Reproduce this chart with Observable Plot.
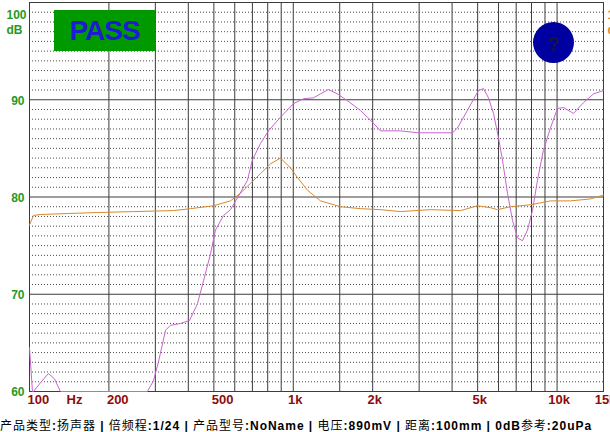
<!DOCTYPE html>
<html>
<head>
<meta charset="utf-8">
<script src="https://cdn.jsdelivr.net/npm/d3@7"></script>
<script src="https://cdn.jsdelivr.net/npm/@observablehq/plot@0.6"></script>
<style>
  html, body { margin: 0; padding: 0; background: #fff; }
  #wrap { position: relative; width: 610px; height: 432px; overflow: hidden; background: #fff; }
  #chart svg { display: block; }
  #pass { position: absolute; left: 54px; top: 10px; width: 101px; height: 41px; background: #009a00;
          color: #1c1cd0; font: bold 28px "Liberation Sans", Arial, sans-serif; letter-spacing: -1px;
          display: flex; align-items: center; justify-content: center; }
  #badge { position: absolute; left: 533px; top: 22px; width: 41px; height: 41px; border-radius: 50%;
           background: #0000a0; color: #14143c; font: bold 20px "Liberation Sans", Arial, sans-serif;
           display: flex; align-items: center; justify-content: center; padding-top: 4px; box-sizing: border-box; }
  #caption { position: absolute; left: 0; top: 416px; height: 16px; line-height: 16px; white-space: nowrap;
             font: bold 12px "Liberation Sans", "Noto Sans CJK SC", sans-serif; color: #000; }
  #caption .cjk { font-weight: normal; }
</style>
</head>
<body>
<div id="wrap">
  <div id="chart"></div>
  <div id="pass">PASS</div>
  <div id="badge">?</div>
  <div id="caption"></div>
</div>
<script>
// ---- data ----
const gridFreqs = [100,200,300,400,500,600,700,800,900,1000,1500,2000,3000,4000,5000,6000,7000,8000,9000,10000,15000];
const hzTickValues = [100, 200, 500];
const hzTickLabels = ["100", "200", "500"];
const kTickValues = [1000, 2000, 5000, 10000, 15000];
const kTickLabels = ["1k", "2k", "5k", "10k", "15k"];
const dbTickValues = [90, 80, 70, 60];
const dbTickLabels = ["90", "80", "70", "60"];
const dbMajor = [70, 80, 90];
const dbMinor = [61,62,63,64,65,66,67,68,69,71,72,73,74,75,76,77,78,79,81,82,83,84,85,86,87,88,89,91,92,93,94,95,96,97,98,99];

const splFreq = [100,102.6,103.5,110,118,124.4,131,150,186,230,280,295,308,328,342,374,404,433,457,486,507,544,578,614,670,700,751,805,894,1002,1093,1193,1268,1359,1471,1605,1797,1996,2141,2550,2983,4013,4193,4571,5035,5260,5495,5741,5997,6210,6486,6776,7080,7396,7727,8068,8427,8878,9440,10036,10575,11541,12593,13740,15000];
const splDb   = [64.5,59,60,60.9,61.85,61.3,59.5,57,56,57,59.5,61.1,63,66.3,66.8,67.0,67.3,69.0,71.4,74.2,76.6,78.1,78.7,79.9,81.7,83.8,85.5,86.8,88.2,89.6,90.1,90.2,90.6,91.05,90.6,89.9,88.9,87.7,86.8,86.8,86.6,86.6,87.1,88.9,90.95,91.15,90.2,88.6,86.1,83.8,80.4,77.6,75.8,75.5,76.6,78.6,81.7,84.8,87.1,89.1,89.2,88.6,89.7,90.6,90.95];

const refFreq = [100,103.5,110,139,181,248,351,408,498,578,631,688,751,819,894,976,1037,1132,1268,1510,1797,2141,2550,3311,4306,4989,5592,5942,6657,7925,9440,11240,13384,15000];
const refDb   = [77.1,78.1,78.2,78.3,78.4,78.5,78.6,78.8,79.1,79.6,80.4,81.4,82.4,83.4,84.0,83.0,82.0,80.7,79.6,79.0,78.8,78.7,78.5,78.7,78.6,79.1,78.9,78.7,79.0,79.2,79.6,79.6,79.8,80.2];

const captionText = "产品类型:扬声器  |  倍频程:1/24  |  产品型号:NoName  |  电压:890mV  |  距离:100mm  |  0dB参考:20uPa";

// ---- tables ----
const spl = splFreq.map((f, i) => ({f, db: splDb[i]}));
const ref = refFreq.map((f, i) => ({f, db: refDb[i]}));
const hzTicks = hzTickValues.map((f, i) => ({f, label: hzTickLabels[i]}));
const kTicks = kTickValues.map((f, i) => ({f, label: kTickLabels[i]}));
const dbTicks = dbTickValues.map((v, i) => ({v, label: dbTickLabels[i]}));

const gridColor = "#3c3c3c";
const axisFont = {fontFamily: "Liberation Sans, Arial, sans-serif", fontWeight: "bold"};

const chart = Plot.plot({
  width: 610,
  height: 416,
  marginLeft: 29,
  marginRight: 7,
  marginTop: 2,
  marginBottom: 25,
  x: {type: "log", domain: [100, 15000], axis: null},
  y: {domain: [60, 100], axis: null, clamp: true},
  style: {background: "white", overflow: "visible"},
  marks: [
    Plot.ruleY(dbMinor, {stroke: "#4a4a4a", strokeDasharray: "1,2", strokeWidth: 1}),
    Plot.ruleY(dbMajor, {stroke: gridColor, strokeWidth: 1}),
    Plot.ruleX(gridFreqs, {stroke: gridColor, strokeWidth: 1}),
    Plot.frame({stroke: gridColor}),
    Plot.line(ref, {x: "f", y: "db", stroke: "#d88a2c", strokeWidth: 1}),
    Plot.line(spl, {x: "f", y: "db", stroke: "#c865d0", strokeWidth: 1}),
    // left axis labels
    Plot.text(dbTicks, {y: "v", text: "label", frameAnchor: "left", dx: -5, dy: 1, textAnchor: "end",
      fill: "#259a25", fontSize: 12, ...axisFont}),
    Plot.text(["100"], {frameAnchor: "top-left", dx: -3, dy: 8, textAnchor: "end",
      fill: "#259a25", fontSize: 12, ...axisFont}),
    Plot.text(["dB"], {frameAnchor: "top-left", dx: -7, dy: 23, textAnchor: "end",
      fill: "#259a25", fontSize: 12, ...axisFont}),
    // right labels (cut by the window edge, as in the reference)
    Plot.text(["100"], {frameAnchor: "top-right", dx: 4, dy: 8, textAnchor: "start",
      fill: "#e08a1a", fontSize: 12, ...axisFont}),
    Plot.text(["dB"], {frameAnchor: "top-right", dx: 4, dy: 23, textAnchor: "start",
      fill: "#e08a1a", fontSize: 12, ...axisFont}),
    // bottom axis labels
    Plot.text(hzTicks, {x: "f", text: "label", frameAnchor: "bottom", dy: 12, dx: -2, textAnchor: "start",
      fill: "#8e0b0b", fontSize: 13, ...axisFont}),
    Plot.text(kTicks, {x: "f", text: "label", frameAnchor: "bottom", dy: 12, dx: 2, textAnchor: "middle",
      fill: "#8e0b0b", fontSize: 13, ...axisFont}),
    Plot.text(["Hz"], {frameAnchor: "bottom-left", dx: 45, dy: 12, textAnchor: "middle",
      fill: "#8e0b0b", fontSize: 13, ...axisFont})
  ]
});
document.getElementById("chart").appendChild(chart);

// caption: CJK runs in regular weight, Latin runs bold
const cap = document.getElementById("caption");
captionText.split(/([\u4e00-\u9fff]+)/).forEach(part => {
  if (!part) return;
  const s = document.createElement("span");
  if (/[\u4e00-\u9fff]/.test(part)) s.className = "cjk";
  s.textContent = part;
  cap.appendChild(s);
});
const w = cap.getBoundingClientRect().width;
cap.style.letterSpacing = ((602 - w) / captionText.length) + "px";
</script>
</body>
</html>
